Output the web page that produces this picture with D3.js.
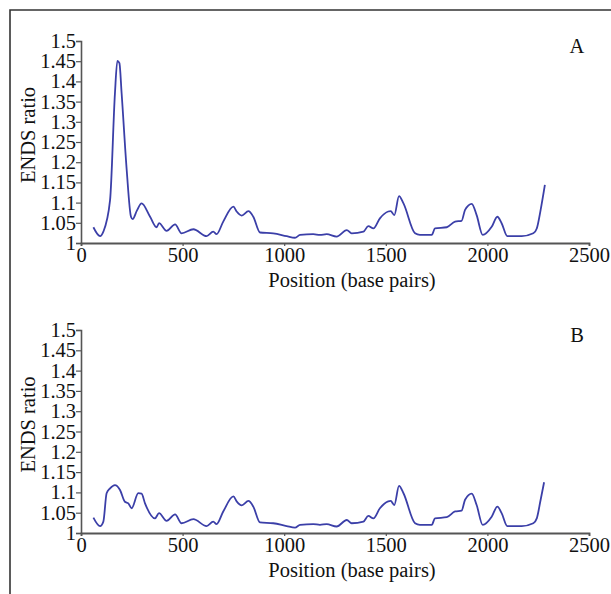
<!DOCTYPE html>
<html>
<head>
<meta charset="utf-8">
<script src="https://cdn.jsdelivr.net/npm/d3@7"></script>
<style>
  html, body { margin: 0; padding: 0; background: #fff; }
  svg { display: block; font-family: "Liberation Serif", "Times New Roman", serif; }
</style>
</head>
<body>
<script>
// ENDS ratio along the sequence, panel A (with the 5' peak) and panel B
const posA = [61, 94, 110, 143, 167, 179, 189, 200, 225, 246, 254, 275, 298, 340, 372, 384, 421, 463, 495, 553,
  618, 651, 667, 700, 750, 766, 791, 824, 848, 881, 946, 1012, 1053, 1078, 1143, 1176, 1209, 1258, 1308, 1332,
  1390, 1414, 1439, 1471, 1512, 1524, 1542, 1565, 1587, 1644, 1668, 1726, 1742, 1800, 1841, 1873, 1890, 1923,
  1947, 1977, 2021, 2049, 2070, 2098, 2169, 2226, 2243, 2262, 2283];
const ratioA = [1.039, 1.017, 1.028, 1.106, 1.37, 1.451, 1.445, 1.37, 1.18, 1.065, 1.059, 1.08, 1.098, 1.065, 1.039, 1.049, 1.03, 1.046, 1.024, 1.034,
  1.017, 1.028, 1.022, 1.053, 1.09, 1.078, 1.068, 1.079, 1.065, 1.026, 1.024, 1.017, 1.013, 1.02, 1.022, 1.02, 1.022, 1.016, 1.032, 1.024,
  1.028, 1.042, 1.036, 1.061, 1.078, 1.079, 1.069, 1.116, 1.098, 1.024, 1.02, 1.02, 1.036, 1.039, 1.053, 1.055, 1.082, 1.097,
  1.069, 1.02, 1.04, 1.065, 1.049, 1.017, 1.017, 1.024, 1.036, 1.082, 1.144];

const posB = [61, 94, 110, 126, 143, 167, 192, 216, 233, 249, 282, 298, 315, 364, 384, 421, 463, 495, 553,
  618, 651, 667, 700, 750, 766, 791, 824, 848, 881, 946, 1012, 1053, 1078, 1143, 1176, 1209, 1258, 1308, 1332,
  1390, 1414, 1439, 1471, 1512, 1524, 1542, 1565, 1587, 1644, 1668, 1726, 1742, 1800, 1841, 1873, 1890, 1923,
  1947, 1977, 2021, 2049, 2070, 2098, 2169, 2226, 2243, 2262, 2279];
const ratioB = [1.038, 1.017, 1.028, 1.098, 1.11, 1.118, 1.106, 1.077, 1.073, 1.061, 1.098, 1.097, 1.073, 1.036, 1.049, 1.03, 1.046, 1.024, 1.034,
  1.017, 1.028, 1.022, 1.053, 1.09, 1.078, 1.068, 1.079, 1.065, 1.026, 1.024, 1.017, 1.013, 1.02, 1.022, 1.02, 1.022, 1.016, 1.032, 1.024,
  1.028, 1.042, 1.036, 1.061, 1.078, 1.079, 1.069, 1.116, 1.098, 1.024, 1.02, 1.02, 1.036, 1.039, 1.053, 1.055, 1.082, 1.097,
  1.069, 1.02, 1.04, 1.065, 1.049, 1.017, 1.017, 1.024, 1.036, 1.082, 1.125];

const xTicks = [0, 500, 1000, 1500, 2000, 2500];
const yTicks = [1, 1.05, 1.1, 1.15, 1.2, 1.25, 1.3, 1.35, 1.4, 1.45, 1.5];
const yTickLabels = ["1", "1.05", "1.1", "1.15", "1.2", "1.25", "1.3", "1.35", "1.4", "1.45", "1.5"];

const width = 611, height = 594;
const fs = 20.5;

const svg = d3.select("body").append("svg")
    .attr("width", width)
    .attr("height", height);

// outer frame (left and top edges only)
svg.append("path")
    .attr("d", "M10,594 V10 H611")
    .attr("fill", "none")
    .attr("stroke", "#333")
    .attr("stroke-width", 1.6);

const panels = [
  {label: "A", pos: posA, ratio: ratioA, top: 41, bottom: 243},
  {label: "B", pos: posB, ratio: ratioB, top: 330, bottom: 533}
];

panels.forEach(p => {
  const x = d3.scaleLinear().domain([0, 2500]).range([81, 589]);
  const y = d3.scaleLinear().domain([1, 1.5]).range([p.bottom, p.top]);

  const g = svg.append("g");

  // y axis
  const ya = g.append("g")
      .attr("transform", "translate(81,0)")
      .call(d3.axisLeft(y).tickValues(yTicks).tickFormat((d, i) => yTickLabels[i]).tickSize(5).tickPadding(0));
  ya.select(".domain").attr("stroke", "#555").attr("stroke-width", 1.6);
  ya.selectAll(".tick line").attr("stroke", "#555").attr("stroke-width", 1.2);
  ya.selectAll("text")
      .attr("font-family", "Liberation Serif, serif")
      .attr("font-size", fs)
      .attr("fill", "#111");

  // x axis
  const xa = g.append("g")
      .attr("transform", `translate(0,${p.bottom})`)
      .call(d3.axisBottom(x).tickValues(xTicks).tickFormat(d3.format("d")).tickSize(3).tickPadding(1));
  xa.select(".domain").attr("stroke", "#555").attr("stroke-width", 1.8);
  xa.selectAll(".tick line").attr("stroke", "#555").attr("stroke-width", 1.2);
  xa.selectAll("text")
      .attr("font-family", "Liberation Serif, serif")
      .attr("font-size", fs)
      .attr("fill", "#111");

  // axis titles
  g.append("text")
      .attr("transform", `translate(35,${(p.top + p.bottom) / 2 - 7}) rotate(-90)`)
      .attr("text-anchor", "middle")
      .attr("font-size", fs)
      .attr("fill", "#111")
      .text("ENDS ratio");

  g.append("text")
      .attr("x", 352)
      .attr("y", p.bottom + 44)
      .attr("text-anchor", "middle")
      .attr("font-size", fs)
      .attr("fill", "#111")
      .text("Position (base pairs)");

  g.append("text")
      .attr("x", 577)
      .attr("y", p.top + 12)
      .attr("text-anchor", "middle")
      .attr("font-size", fs)
      .attr("fill", "#111")
      .text(p.label);

  const line = d3.line()
      .x((d, i) => x(p.pos[i]))
      .y(d => y(d))
      .curve(d3.curveMonotoneX);

  g.append("path")
      .datum(p.ratio)
      .attr("fill", "none")
      .attr("stroke", "#3b3fa8")
      .attr("stroke-width", 1.8)
      .attr("stroke-linejoin", "round")
      .attr("d", line);
});
</script>
</body>
</html>
